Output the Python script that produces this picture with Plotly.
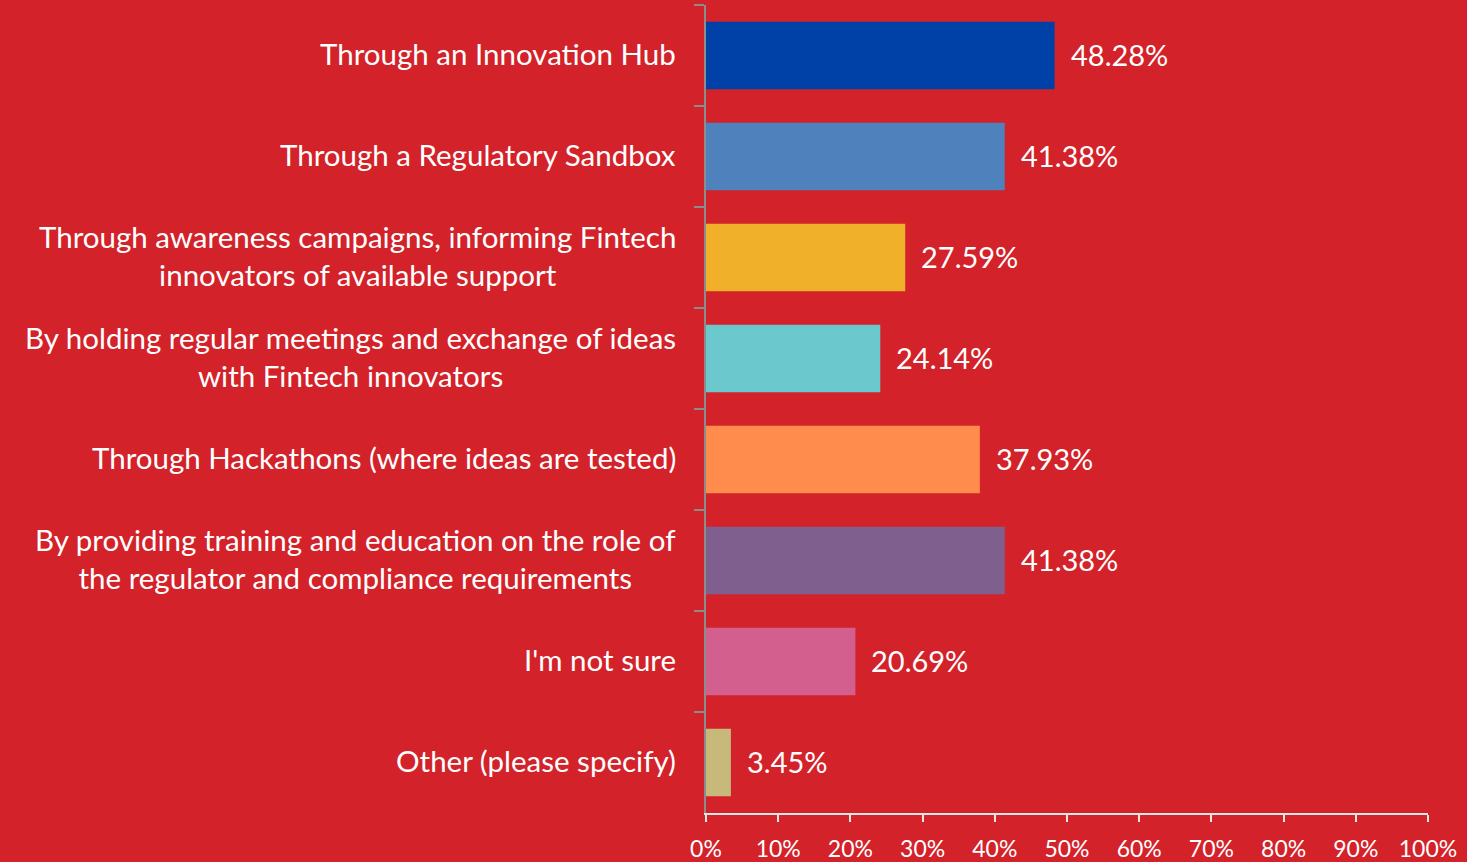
import plotly.graph_objects as go

categories = [
    "Through an Innovation Hub",
    "Through a Regulatory Sandbox",
    "Through awareness campaigns, informing Fintech<br>innovators of available support",
    "By holding regular meetings and exchange of ideas<br>with Fintech innovators",
    "Through Hackathons (where ideas are tested)",
    "By providing training and education on the role of<br>the regulator and compliance requirements",
    "I'm not sure",
    "Other (please specify)",
]
values = [48.28, 41.38, 27.59, 24.14, 37.93, 41.38, 20.69, 3.45]
bar_colors = ["#0041A8", "#4F81BD", "#F0B02A", "#6BC9CD", "#FF8C4C", "#7E5F8E", "#D35F8E", "#C6B979"]
x_ticks = list(range(0, 101, 10))

BG = "#D32229"
FONT = "Lato"

fig = go.Figure(
    go.Bar(
        x=values,
        y=categories,
        orientation="h",
        marker=dict(color=bar_colors, line=dict(width=0)),
        hoverinfo="skip",
    )
)

# category labels: right-aligned block, lines centred within it
for cat in categories:
    fig.add_annotation(
        x=0, xref="paper", y=cat, yref="y",
        text=cat, showarrow=False,
        xanchor="right", yanchor="middle", align="center",
        xshift=-28, yshift=2,
        font=dict(family=FONT, size=29.5, color="white"),
    )

# value labels just past the end of each bar
for cat, v in zip(categories, values):
    fig.add_annotation(
        x=v, xref="x", y=cat, yref="y",
        text=f"{v:.2f}%", showarrow=False,
        xanchor="left", yanchor="middle", xshift=14, yshift=1,
        font=dict(family=FONT, size=29, color="white"),
    )

fig.update_layout(
    width=1467, height=862,
    paper_bgcolor=BG, plot_bgcolor=BG,
    margin=dict(l=706, r=39, t=5, b=49, autoexpand=False),
    bargap=0.33,
    showlegend=False,
    xaxis=dict(
        range=[0, 100],
        tickvals=x_ticks,
        ticktext=[f"{t}%" for t in x_ticks],
        ticks="outside", ticklen=7, tickcolor="#E6E6E6", tickwidth=1.5,
        ticklabelstandoff=8,
        automargin=False,
        showline=True, linecolor="#E6E6E6", linewidth=1.5,
        showgrid=False, zeroline=False,
        tickfont=dict(family=FONT, size=23, color="white"),
        fixedrange=True,
    ),
    yaxis=dict(
        categoryorder="array", categoryarray=categories,
        autorange="reversed",
        showticklabels=False,
        automargin=False,
        ticks="outside", tickson="boundaries", ticklen=10,
        tickcolor="#8C8C8C", tickwidth=2,
        showline=True, linecolor="#8C8C8C", linewidth=2,
        showgrid=False, zeroline=False,
        fixedrange=True,
    ),
)

fig.write_html("out.html")
